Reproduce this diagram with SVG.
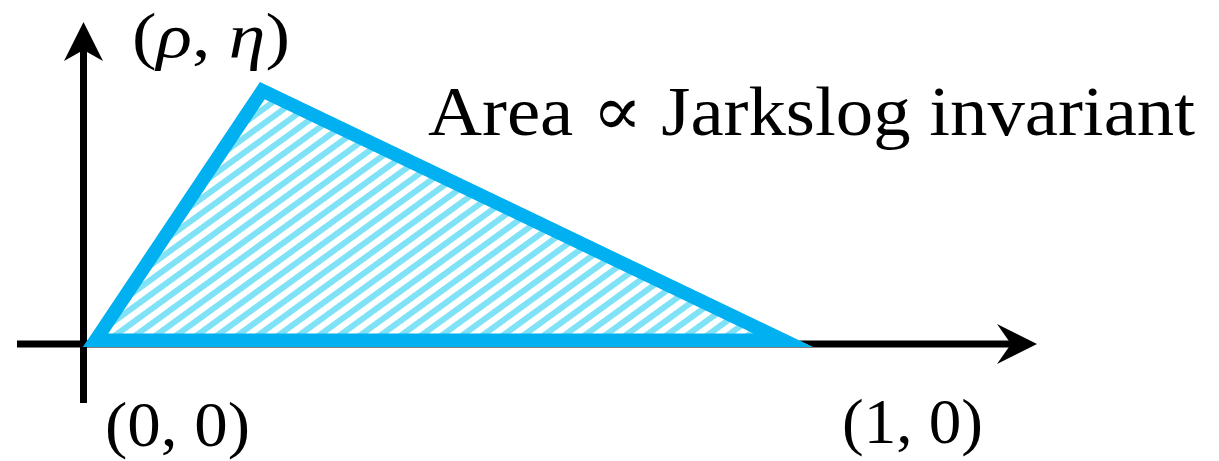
<svg xmlns="http://www.w3.org/2000/svg" width="1219" height="461" viewBox="0 0 1219 461">
<style>
.lbl{font-family:"Liberation Serif","DejaVu Serif",serif;fill:#000}
.axis{stroke:#000;stroke-width:7;fill:none}
.head{fill:#000;stroke:none}
</style>
<defs>
<pattern id="hatch" patternUnits="userSpaceOnUse" width="12" height="12" patternTransform="rotate(-36)">
<rect x="0" y="0" width="12" height="12" fill="#fff"/>
<rect x="0" y="0" width="12" height="6" fill="#7fe2f6"/>
</pattern>
<clipPath id="triClip"><polygon points="83,347 260,82 813,347"/></clipPath>
</defs>
<rect width="1219" height="461" fill="#fff"/>
<g id="connectors">
<line class="axis" x1="17" y1="344" x2="1015" y2="344"/>
<path class="head" d="M1037,344 L997,324 L1011,344 L997,364 Z"/>
<line class="axis" x1="83.5" y1="403" x2="83.5" y2="45"/>
<path class="head" d="M83.5,22 L64,61 L83.5,50 L103,61 Z"/>
</g>
<g id="triangle">
<polygon points="83,347 260,82 813,347" fill="url(#hatch)" stroke="#00b0f0" stroke-width="27" stroke-linejoin="miter" clip-path="url(#triClip)"/>
</g>
<g id="label-area">
<text class="lbl" x="428" y="135" font-size="70" textLength="767" lengthAdjust="spacingAndGlyphs">Area ∝ Jarkslog invariant</text>
</g>
<g id="label-apex">
<text class="lbl" x="132" y="57" font-size="64" textLength="158" lengthAdjust="spacingAndGlyphs">(<tspan font-style="italic">ρ</tspan>, <tspan font-style="italic">η</tspan>)</text>
</g>
<g id="label-origin">
<text class="lbl" x="105" y="446" font-size="63" textLength="145" lengthAdjust="spacingAndGlyphs">(0, 0)</text>
</g>
<g id="label-one">
<text class="lbl" x="842" y="443" font-size="64" textLength="141" lengthAdjust="spacingAndGlyphs">(1, 0)</text>
</g>
</svg>
